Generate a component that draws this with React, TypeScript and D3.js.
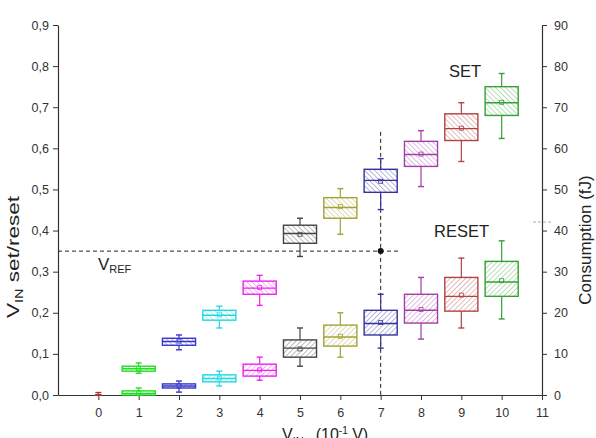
import { useEffect, useRef } from 'react'
import { select, scaleLinear, axisLeft, axisRight, axisBottom, range } from 'd3'

// supply voltage steps (x 10^-1 V)
const voltages = [0, 1, 2, 3, 4, 5, 6, 7, 8, 9, 10]
const boxColors = [
  '#b03030', '#22dd22', '#3535cc', '#22d8e0', '#ee22ee', '#444444',
  '#a3a335', '#333399', '#a23fa2', '#b24343', '#35a035',
]

// SET distribution (V)
const setLow = [0, 0.053, 0.11, 0.163, 0.218, 0.337, 0.391, 0.451, 0.507, 0.568, 0.624]
const setQ1 = [0, 0.058, 0.121, 0.182, 0.245, 0.369, 0.43, 0.493, 0.556, 0.619, 0.68]
const setMed = [0, 0.064, 0.13, 0.194, 0.26, 0.393, 0.456, 0.522, 0.585, 0.648, 0.711]
const setMean = [0, 0.064, 0.131, 0.195, 0.261, 0.391, 0.458, 0.52, 0.586, 0.649, 0.712]
const setQ3 = [0, 0.07, 0.138, 0.206, 0.277, 0.413, 0.48, 0.549, 0.617, 0.684, 0.75]
const setHigh = [0.006, 0.078, 0.146, 0.216, 0.291, 0.43, 0.502, 0.575, 0.643, 0.711, 0.782]

// RESET distribution (V)
const resetLow = [0, 0, 0.007, 0.022, 0.036, 0.07, 0.092, 0.114, 0.136, 0.163, 0.185]
const resetQ1 = [0, 0, 0.017, 0.032, 0.046, 0.092, 0.119, 0.146, 0.175, 0.204, 0.24]
const resetMed = [0, 0.004, 0.022, 0.04, 0.06, 0.114, 0.141, 0.174, 0.206, 0.24, 0.275]
const resetMean = [0, 0.005, 0.022, 0.041, 0.061, 0.112, 0.143, 0.176, 0.208, 0.243, 0.278]
const resetQ3 = [0, 0.01, 0.027, 0.049, 0.075, 0.134, 0.17, 0.206, 0.245, 0.286, 0.325]
const resetHigh = [0, 0.017, 0.034, 0.058, 0.092, 0.163, 0.2, 0.245, 0.286, 0.333, 0.375]

const vRef = 0.35
const vRefStep = 7

const leftTicks = [0, 0.1, 0.2, 0.3, 0.4, 0.5, 0.6, 0.7, 0.8, 0.9]
const rightTicks = [0, 10, 20, 30, 40, 50, 60, 70, 80, 90]
const xTicks = [0, 1, 2, 3, 4, 5, 6, 7, 8, 9, 10, 11]

const W = 596
const H = 438
const FONT = '"Liberation Sans", Arial, sans-serif'

export default function App() {
  const svgRef = useRef<SVGSVGElement | null>(null)

  useEffect(() => {
    const svg = select(svgRef.current)
    svg.selectAll('*').remove()

    const x = scaleLinear().domain([-1, 11]).range([58, 542])
    const y = scaleLinear().domain([0, 0.9]).range([395, 25])
    const yRight = scaleLinear().domain([0, 90]).range([395, 25])
    const boxW = x(0.82) - x(0)

    // hatch fills, "\\\" for SET and "///" for RESET
    const defs = svg.append('defs')
    const kinds: [string, number][] = [['set', -45], ['reset', 45]]
    kinds.forEach(([kind, angle]) => {
      boxColors.forEach((c, i) => {
        const p = defs
          .append('pattern')
          .attr('id', `hatch-${kind}-${i}`)
          .attr('patternUnits', 'userSpaceOnUse')
          .attr('width', 3.6)
          .attr('height', 3.6)
          .attr('patternTransform', `rotate(${angle})`)
        p.append('rect').attr('width', 3.6).attr('height', 3.6).attr('fill', '#fff')
        p.append('line')
          .attr('x1', 0).attr('y1', 0).attr('x2', 0).attr('y2', 3.6)
          .attr('stroke', c).attr('stroke-opacity', 0.7).attr('stroke-width', 1)
      })
    })

    const fmt = (d: number) => d.toFixed(1).replace('.', ',')

    // left axis with minor ticks
    const gl = svg.append('g').attr('transform', `translate(${x(-1)},0)`)
    gl.call(axisLeft(y).tickValues(range(0.05, 0.9, 0.1)).tickSize(3).tickFormat(() => '') as any)
    gl.call(axisLeft(y).tickValues(leftTicks).tickSize(5).tickSizeOuter(0).tickPadding(4).tickFormat(fmt as any) as any)

    // right axis with minor ticks
    const gr = svg.append('g').attr('transform', `translate(${x(11)},0)`)
    gr.call(axisRight(yRight).tickValues(range(5, 90, 10)).tickSize(3).tickFormat(() => '') as any)
    gr.call(axisRight(yRight).tickValues(rightTicks).tickSize(5).tickSizeOuter(0).tickPadding(7) as any)

    // bottom axis
    const gb = svg.append('g').attr('transform', `translate(0,${y(0)})`)
    gb.call(axisBottom(x).tickValues(xTicks).tickSize(5).tickSizeOuter(0).tickPadding(8) as any)

    svg.selectAll('.domain').attr('stroke', '#333').attr('stroke-width', 1.2)
    svg.selectAll('.tick line').attr('stroke', '#333')
    svg
      .selectAll('.tick text')
      .attr('fill', '#333')
      .style('font-family', FONT)
      .style('font-size', '12.5px')

    // reference lines
    svg
      .append('line')
      .attr('x1', x(-1)).attr('x2', x(vRefStep + 0.5))
      .attr('y1', y(vRef)).attr('y2', y(vRef))
      .attr('stroke', '#222').attr('stroke-dasharray', '4,3')
    svg
      .append('line')
      .attr('x1', x(vRefStep)).attr('x2', x(vRefStep))
      .attr('y1', y(0.64)).attr('y2', y(0))
      .attr('stroke', '#222').attr('stroke-dasharray', '4,3')
    svg
      .append('circle')
      .attr('cx', x(vRefStep)).attr('cy', y(vRef)).attr('r', 3)
      .attr('fill', '#111')
    svg
      .append('line')
      .attr('x1', 533).attr('x2', 553).attr('y1', 222).attr('y2', 222)
      .attr('stroke', '#aaa').attr('stroke-dasharray', '3,2')

    const drawBoxes = (
      kind: string,
      low: number[], q1: number[], med: number[], mean: number[], q3: number[], high: number[],
    ) => {
      const g = svg.append('g').attr('class', `boxes-${kind}`)
      voltages.forEach((v, i) => {
        const c = boxColors[i]
        const cx = x(v)
        const b = g.append('g')
        b.append('line')
          .attr('x1', cx).attr('x2', cx).attr('y1', y(high[i])).attr('y2', y(low[i]))
          .attr('stroke', c).attr('stroke-width', 1.2)
        ;[low[i], high[i]].forEach((w) => {
          b.append('line')
            .attr('x1', cx - 3).attr('x2', cx + 3).attr('y1', y(w)).attr('y2', y(w))
            .attr('stroke', c).attr('stroke-width', 1.4)
        })
        if (i > 0) {
          b.append('rect')
            .attr('x', cx - boxW / 2).attr('width', boxW)
            .attr('y', y(q3[i])).attr('height', Math.max(y(q1[i]) - y(q3[i]), 1))
            .attr('fill', `url(#hatch-${kind}-${i})`)
            .attr('stroke', c).attr('stroke-width', 1.4)
          b.append('line')
            .attr('x1', cx - boxW / 2).attr('x2', cx + boxW / 2)
            .attr('y1', y(med[i])).attr('y2', y(med[i]))
            .attr('stroke', c).attr('stroke-width', 1.4)
          b.append('rect')
            .attr('x', cx - 2).attr('y', y(mean[i]) - 2).attr('width', 4).attr('height', 4)
            .attr('fill', 'none').attr('stroke', c).attr('stroke-width', 0.8)
        }
      })
    }

    drawBoxes('reset', resetLow, resetQ1, resetMed, resetMean, resetQ3, resetHigh)
    drawBoxes('set', setLow, setQ1, setMed, setMean, setQ3, setHigh)

    const text = (tx: number, ty: number, size: number) =>
      svg
        .append('text')
        .attr('x', tx)
        .attr('y', ty)
        .attr('fill', '#222')
        .style('font-family', FONT)
        .style('font-size', `${size}px`)

    text(449, 77, 16.5).text('SET')
    text(434, 237, 16.5).text('RESET')

    const vr = text(98, 270, 17).text('V')
    vr.append('tspan').attr('dy', 3).style('font-size', '11px').text('REF')

    // axis titles
    const xt = text(282, 440, 16).text('V')
    xt.append('tspan').attr('dy', 5).style('font-size', '11px').text('IN')
    xt.append('tspan').attr('dy', -5).attr('dx', 12).text('(10')
    xt.append('tspan').attr('dy', -6).style('font-size', '10px').text('-1')
    xt.append('tspan').attr('dy', 6).text(' V)')

    const yl = svg
      .append('text')
      .attr('transform', 'translate(19,318) rotate(-90)')
      .attr('fill', '#222')
      .attr('textLength', 122)
      .attr('lengthAdjust', 'spacingAndGlyphs')
      .style('font-family', FONT)
      .style('font-size', '17px')
      .text('V')
    yl.append('tspan').attr('dy', 4).style('font-size', '11px').text('IN')
    yl.append('tspan').attr('dy', -4).text(' set/reset')

    svg
      .append('text')
      .attr('transform', 'translate(591,240) rotate(-90)')
      .attr('text-anchor', 'middle')
      .attr('fill', '#222')
      .style('font-family', FONT)
      .style('font-size', '17px')
      .text('Consumption (fJ)')
  }, [])

  return (
    <svg
      ref={svgRef}
      width={W}
      height={H}
      style={{ position: 'absolute', left: 0, top: 0, background: '#fff' }}
    />
  )
}
